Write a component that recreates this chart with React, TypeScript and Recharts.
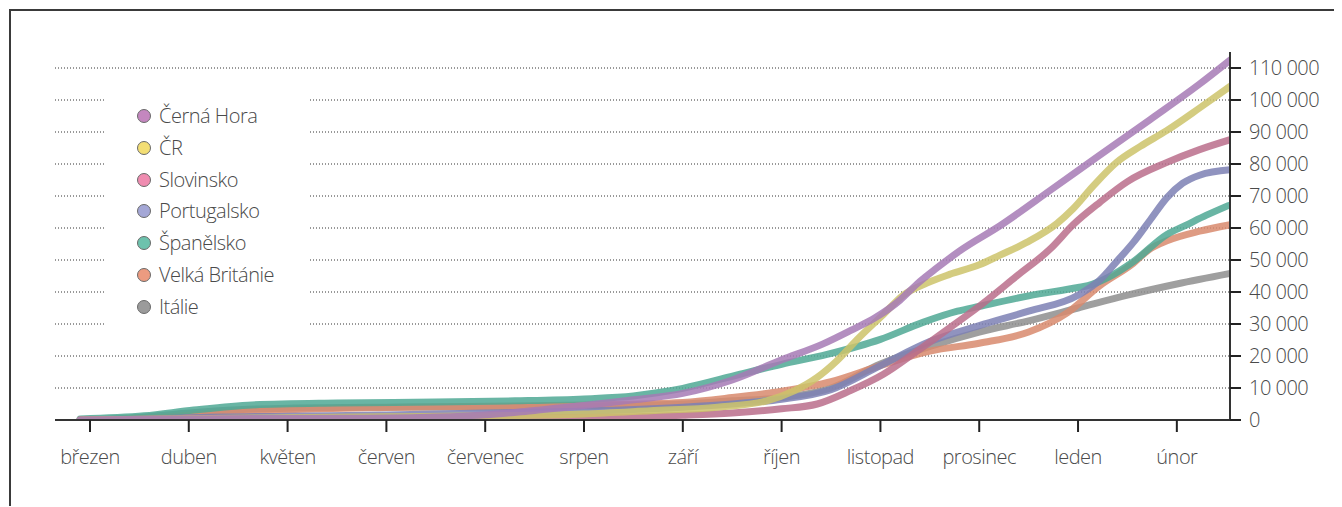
import React from 'react';
import { LineChart, Line, XAxis, YAxis, CartesianGrid } from 'recharts';

const monthLabels = ['březen', 'duben', 'květen', 'červen', 'červenec', 'srpen', 'září', 'říjen', 'listopad', 'prosinec', 'leden', 'únor'];
const monthTicks = [0, 1, 2, 3, 4, 5, 6, 7, 8, 9, 10, 11];
const valueTicks = [0, 10000, 20000, 30000, 40000, 50000, 60000, 70000, 80000, 90000, 100000, 110000];

// [month index (0 = březen), value]
const cernaHora: [number, number][] = [
  [-0.1, 0], [1, 300], [2, 500], [3, 600], [3.5, 900], [4, 1600], [4.5, 3000], [5, 4500], [5.5, 6300],
  [6, 8300], [6.5, 12500], [7, 18800], [7.42, 23800], [7.7, 28000], [7.95, 32000], [8.2, 37500],
  [8.37, 42500], [8.55, 47000], [8.81, 53000], [9.21, 60700], [9.72, 71800], [10.22, 82800],
  [10.73, 93900], [11.23, 105000], [11.54, 112500],
];
const cr: [number, number][] = [
  [-0.1, 0], [1, 400], [2, 700], [3, 1000], [4, 1300], [5, 1900], [5.67, 2900], [6.35, 4000],
  [6.85, 6000], [7.12, 9000], [7.36, 13300], [7.56, 18500], [7.76, 25000], [8.03, 33000],
  [8.23, 39000], [8.47, 42800], [8.7, 45500], [9, 48500], [9.21, 51500], [9.48, 55500],
  [9.79, 61500], [9.95, 66000], [10.15, 73000], [10.39, 80500], [10.63, 85500], [10.9, 90500],
  [11.23, 97500], [11.54, 104300],
];
const slovinsko: [number, number][] = [
  [-0.1, 0], [1, 300], [3, 500], [5, 800], [6, 1500], [6.5, 2200], [7, 3500], [7.36, 5000],
  [7.69, 9100], [8.03, 14300], [8.37, 21500], [8.7, 28800], [9.04, 36500], [9.38, 45000],
  [9.72, 53500], [9.95, 61000], [10.22, 68000], [10.5, 74500], [10.9, 80500], [11.23, 84500],
  [11.54, 87600],
];
const portugalsko: [number, number][] = [
  [-0.1, 0], [0.5, 200], [1, 700], [2, 1200], [3, 1600], [4, 2200], [5, 2800], [6, 4000],
  [6.5, 5000], [7, 6500], [7.5, 9500], [8, 17000], [8.5, 24500], [9, 29500], [9.5, 34000],
  [10, 39000], [10.22, 43700], [10.39, 49500], [10.56, 55500], [10.73, 62500], [10.9, 69500],
  [11.06, 74000], [11.23, 76500], [11.54, 78200],
];
const spanelsko: [number, number][] = [
  [-0.1, 300], [0.55, 1300], [1.05, 3100], [1.64, 4700], [2.5, 5300], [3.5, 5600], [4.3, 6000],
  [5, 6600], [5.5, 7500], [5.74, 8500], [6, 9900], [6.58, 14300], [7, 17400], [7.46, 20500],
  [8, 25200], [8.43, 30500], [8.78, 34000], [9, 35500], [9.5, 38800], [10, 41400], [10.1, 42000],
  [10.3, 44500], [10.56, 49500], [10.9, 58000], [11.1, 61000], [11.3, 64000], [11.52, 67000],
];
const velkaBritanie: [number, number][] = [
  [-0.1, 0], [0.5, 300], [1, 1500], [1.5, 2500], [2, 3200], [3, 3900], [4, 4300], [5, 4700],
  [6, 5500], [6.5, 7000], [7, 9000], [7.5, 12000], [8, 17000], [8.5, 21500], [9, 24000],
  [9.5, 27500], [9.89, 33500], [10.22, 42000], [10.56, 49000], [10.73, 53500], [10.9, 56000],
  [11.23, 59000], [11.54, 61000],
];
const italie: [number, number][] = [
  [-0.1, 0], [0.5, 800], [1, 2200], [1.5, 3200], [2, 3700], [3, 4000], [4, 4100], [5, 4400],
  [6, 5000], [6.5, 6000], [7, 7000], [7.5, 10000], [8, 17500], [8.5, 23000], [9, 27500],
  [9.5, 31000], [10, 35000], [10.5, 39000], [11, 42500], [11.54, 45800],
];

const series = [
  { name: 'Černá Hora', data: cernaHora, line: '#a67ab5', fill: '#c487bf' },
  { name: 'ČR', data: cr, line: '#cdc36a', fill: '#f3de74' },
  { name: 'Slovinsko', data: slovinsko, line: '#ba6d8b', fill: '#ef8cb0' },
  { name: 'Portugalsko', data: portugalsko, line: '#7c80b4', fill: '#a4a7d6' },
  { name: 'Španělsko', data: spanelsko, line: '#4fa894', fill: '#6dc2ad' },
  { name: 'Velká Británie', data: velkaBritanie, line: '#d88a6d', fill: '#ec9b80' },
  { name: 'Itálie', data: italie, line: '#8e8e8e', fill: '#9b9b9b' },
];

const FONT = '"Open Sans", "Noto Sans", sans-serif';
const TEXT = '#4a4a4a';

const fmt = (v: number) => String(v).replace(/\B(?=(\d{3})+(?!\d))/g, ' ');

export default function App() {
  const drawOrder = [...series].reverse();
  return (
    <>
      <style>{`html,body{overflow:hidden;}`}</style>
      <div
        style={{
          position: 'relative',
          left: 1,
          top: 1,
          width: 1340,
          height: 498,
          borderTop: '2px solid #3a3a3a',
          borderLeft: '2px solid #3a3a3a',
          boxSizing: 'border-box',
          fontFamily: FONT,
          background: '#fff',
        }}
      >
        <LineChart
          width={1331}
          height={496}
          margin={{ top: 41, right: 10, bottom: 40, left: 44 }}
        >
          <CartesianGrid
            horizontal
            vertical={false}
            horizontalValues={valueTicks}
            stroke="#333"
            strokeWidth={1}
            strokeDasharray="1 2"
          />
          <XAxis
            dataKey="m"
            type="number"
            domain={[-0.354, 11.538]}
            ticks={monthTicks}
            allowDataOverflow
            tickFormatter={(v: number) => monthLabels[v] ?? ''}
            interval={0}
            height={47}
            tickSize={12}
            tickMargin={18}
            axisLine={{ stroke: '#333', strokeWidth: 2 }}
            tickLine={{ stroke: '#222', strokeWidth: 2 }}
            tick={{ fill: TEXT, fontSize: 20, fontWeight: 300, fontFamily: FONT, letterSpacing: -0.5 }}
          />
          <YAxis
            orientation="right"
            type="number"
            domain={[0, 115000]}
            ticks={valueTicks}
            allowDataOverflow
            interval={0}
            width={102}
            tickSize={11}
            tickMargin={8}
            tickFormatter={fmt}
            axisLine={{ stroke: '#333', strokeWidth: 2 }}
            tickLine={{ stroke: '#222', strokeWidth: 2 }}
            tick={{ fill: TEXT, fontSize: 20, fontWeight: 300, fontFamily: FONT, letterSpacing: -0.5 }}
          />
          {drawOrder.map((s) => (
            <Line
              key={s.name}
              name={s.name}
              data={s.data.map(([m, v]) => ({ m, v }))}
              dataKey="v"
              type="monotone"
              stroke={s.line}
              strokeWidth={7}
              strokeOpacity={0.85}
              strokeLinecap="round"
              strokeLinejoin="round"
              dot={false}
              activeDot={false}
              isAnimationActive={false}
            />
          ))}
        </LineChart>
        <div
          style={{
            position: 'absolute',
            left: 94,
            top: 73,
            width: 203,
            height: 254,
            background: '#fff',
          }}
        >
          {series.map((s, i) => (
            <div
              key={s.name}
              style={{
                position: 'absolute',
                left: 0,
                top: 32 + i * 31.8 - 15,
                height: 30,
                display: 'flex',
                alignItems: 'center',
                whiteSpace: 'nowrap',
              }}
            >
              <span
                style={{
                  display: 'inline-block',
                  marginLeft: 32,
                  width: 12,
                  height: 12,
                  borderRadius: '50%',
                  background: s.fill,
                  border: '1px solid #6a6a6a',
                }}
              />
              <span
                style={{
                  marginLeft: 8,
                  fontSize: 20,
                  fontWeight: 300,
                  letterSpacing: -0.5,
                  color: TEXT,
                  fontFamily: FONT,
                  lineHeight: '30px',
                }}
              >
                {s.name}
              </span>
            </div>
          ))}
        </div>
      </div>
    </>
  );
}
